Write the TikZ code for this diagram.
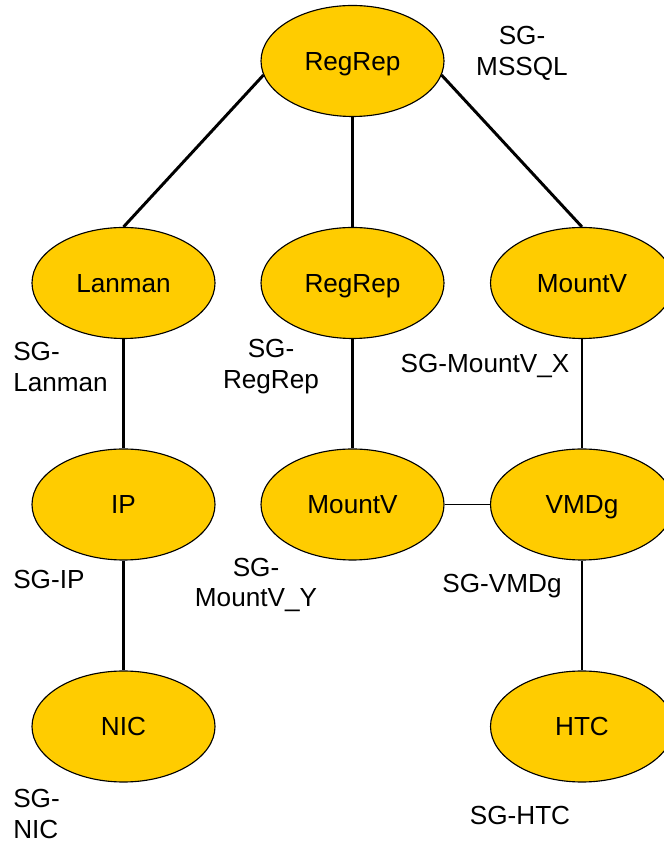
\documentclass[tikz,border=0pt]{standalone}
\usepackage{fontspec}
\setmainfont{Liberation Sans}
\usetikzlibrary{shapes.geometric}
\definecolor{resgold}{RGB}{255,204,0}
\tikzset{
	res/.style={ellipse, draw=black, line width=0.8pt, fill=resgold, inner sep=0pt,
		minimum width=4.575cm, minimum height=2.775cm, text height=13.3pt, text depth=0pt,
		font=\fontsize{18.6}{22}\selectfont},
	sglabel/.style={inner sep=0pt, font=\fontsize{18.6}{22}\selectfont},
	link/.style={line width=2.1pt},
	thinlink/.style={line width=1pt}
}

\begin{document}
\begin{tikzpicture}
		%%%%% START %%%%%
		\useasboundingbox (0, 0) rectangle (16.6, 21.1);
		
		\node[res] (regreptop) at (8.8125, 19.575) {RegRep};
		
		\node[res] (lanman) at (3.0875, 14.025) {Lanman};
		\node[res] (regrepmid) at (8.8125, 14.025) {RegRep};
		\node[res] (mountvx) at (14.55, 14.025) {MountV};
		
		\node[res] (ip) at (3.0875, 8.4875) {IP};
		\node[res] (mountvy) at (8.8125, 8.4875) {MountV};
		\node[res] (vmdg) at (14.55, 8.4875) {VMDg};
		
		\node[res] (nic) at (3.0875, 2.9375) {NIC};
		\node[res] (htc) at (14.55, 2.9375) {HTC};
		
		\draw[link] (regreptop.189) -- (lanman.north);
		\draw[link] (regreptop.south) -- (regrepmid.north);
		\draw[link] (regreptop.351) -- (mountvx.north);
		
		\draw[link] (lanman.south) -- (ip.north);
		\draw[link] (ip.south) -- (nic.north);
		\draw[link] (regrepmid.south) -- (mountvy.north);
		\draw[link] (mountvx.south) -- (vmdg.north);
		\draw[link] (vmdg.south) -- (htc.north);
		\draw[thinlink] (mountvy.east) -- (vmdg.west);
		
		\node[sglabel, align=center] (sgmssql) at (13.05, 19.775) {SG-\\MSSQL};
		\node[sglabel, align=left, anchor=west] (sglanman) at (0.325, 11.925) {SG-\\Lanman};
		\node[sglabel, align=center] (sgregrep) at (6.775, 11.925) {SG-\\RegRep};
		\node[sglabel] (sgmountvx) at (12.125, 11.95) {SG-MountV\_X};
		\node[sglabel, anchor=west] (sgip) at (0.325, 6.6) {SG-IP};
		\node[sglabel, align=center] (sgmountvy) at (6.4, 6.475) {SG-\\MountV\_Y};
		\node[sglabel] (sgvmdg) at (12.55, 6.45) {SG-VMDg};
		\node[sglabel, align=left, anchor=west] (sgnic) at (0.325, 0.75) {SG-\\NIC};
		\node[sglabel] (sghtc) at (13.0, 0.725) {SG-HTC};
		%%%%% END %%%%%
	\end{tikzpicture}
\end{document}
